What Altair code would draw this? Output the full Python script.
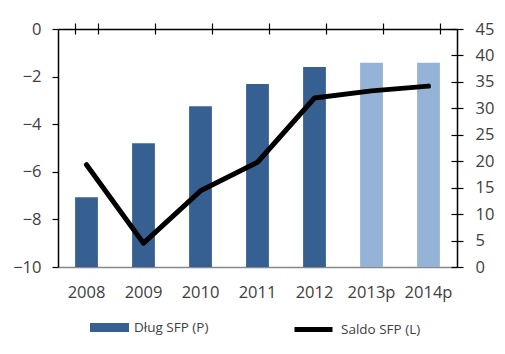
import altair as alt
import pandas as pd

years = ["2008", "2009", "2010", "2011", "2012", "2013p", "2014p"]
debt = [13.2, 23.4, 30.4, 34.6, 37.8, 38.6, 38.6]
saldo = [-5.7, -9.0, -6.8, -5.6, -2.9, -2.6, -2.4]
kind = ["Dług SFP (P)"] * 5 + ["prognoza"] * 2
line_name = ["Saldo SFP (L)"] * 7

df = pd.DataFrame({"year": years, "debt": debt, "saldo": saldo,
                   "kind": kind, "line": line_name})

FONT = "Open Sans"
LAB = "#404040"
xscale = alt.Scale(domain=years, paddingInner=0.6, paddingOuter=0.3)

bars = alt.Chart(df).mark_bar().encode(
    x=alt.X("year:N", scale=xscale, sort=years, title=None,
            axis=alt.Axis(orient="bottom", labelAngle=0, ticks=False,
                          domainColor="#888888", domainWidth=1.5,
                          labelPadding=17, labelFont=FONT, labelFontSize=16.5,
                          labelColor=LAB, grid=False)),
    y=alt.Y("debt:Q", scale=alt.Scale(domain=[0, 45], nice=False), title=None,
            axis=alt.Axis(orient="right", values=list(range(0, 50, 5)),
                          tickSize=6, tickColor="black", domainColor="black",
                          grid=False, labelPadding=12, labelFont=FONT,
                          labelFontSize=16.5, labelColor=LAB)),
    color=alt.Color("kind:N",
                    scale=alt.Scale(domain=["Dług SFP (P)", "prognoza"],
                                    range=["#376092", "#95B3D7"]),
                    legend=alt.Legend(values=["Dług SFP (P)"], title=None,
                                      orient="none", legendX=32, legendY=279,
                                      symbolType="M-1,-0.23H1V0.23H-1Z",
                                      symbolSize=1521, symbolStrokeWidth=0,
                                      labelFont=FONT, labelFontSize=13.5,
                                      labelColor=LAB, labelOffset=5)),
)

line = alt.Chart(df).mark_line(strokeWidth=5, strokeCap="round",
                               strokeJoin="round").encode(
    x=alt.X("year:N", scale=xscale, sort=years, title=None,
            axis=alt.Axis(orient="top", labels=False, tickBand="extent",
                          tickSize=6, tickColor="black", domainColor="black",
                          grid=False)),
    y=alt.Y("saldo:Q", scale=alt.Scale(domain=[-10, 0], nice=False), title=None,
            axis=alt.Axis(orient="left", values=list(range(-10, 1, 2)),
                          tickSize=6, tickColor="black", domainColor="black",
                          grid=False, labelPadding=11, labelFont=FONT,
                          labelFontSize=16.5, labelColor=LAB)),
    stroke=alt.Stroke("line:N", scale=alt.Scale(range=["black"]),
                      legend=alt.Legend(title=None, orient="none",
                                        legendX=234, legendY=279,
                                        symbolType="stroke", symbolSize=1444,
                                        symbolStrokeWidth=5,
                                        labelFont=FONT, labelFontSize=13.5,
                                        labelColor=LAB, labelOffset=6)),
)

ticks_in = alt.Chart(df).mark_point(opacity=0).encode(
    x=alt.X("year:N", scale=xscale, sort=years, title=None,
            axis=alt.Axis(orient="top", labels=False, tickBand="extent",
                          tickSize=5, tickColor="black", domain=False,
                          offset=-5, grid=False)),
    y=alt.Y("debt:Q", scale=alt.Scale(domain=[0, 45], nice=False), title=None,
            axis=alt.Axis(orient="right", values=list(range(0, 50, 5)),
                          tickSize=6, tickColor="black", domain=False,
                          labels=False, offset=-6, grid=False)),
)

chart = alt.layer(bars, line, ticks_in).resolve_scale(
    y="independent"
).resolve_axis(x="independent", y="independent").properties(
    width=399, height=238,
    autosize=alt.AutoSizeParams(type="none"),
    padding={"left": 58, "top": 29, "right": 48, "bottom": 87},
).configure_view(stroke=None).configure_axis(domainWidth=1.5, tickWidth=1.2)

chart.save("out.html", embed_options={"renderer": "svg", "actions": False})
